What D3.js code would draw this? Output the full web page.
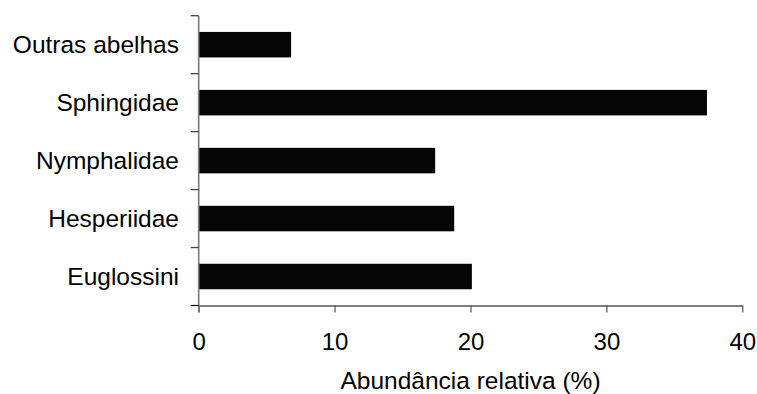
<!DOCTYPE html>
<html>
<head>
<meta charset="utf-8">
<script src="https://cdn.jsdelivr.net/npm/d3@7"></script>
<style>
  html, body { margin: 0; padding: 0; background: #fff; }
  svg { display: block; }
  text { font-family: "Liberation Sans", Arial, sans-serif; fill: #000; }
</style>
</head>
<body>
<div id="chart"></div>
<script>
// Data (top to bottom)
const categories = ["Outras abelhas", "Sphingidae", "Nymphalidae", "Hesperiidae", "Euglossini"];
const values = [6.8, 37.4, 17.4, 18.8, 20.1];
const xTicks = [0, 10, 20, 30, 40];
const xTitle = "Abundância relativa (%)";

const W = 757, H = 394;
const svg = d3.select("#chart").append("svg").attr("width", W).attr("height", H);

const plotLeft = 198.7, plotRight = 742.3, plotTop = 15.7, plotBottom = 305.5;

const x = d3.scaleLinear().domain([0, 40]).range([plotLeft, plotRight]);
const y = d3.scaleBand().domain(categories).range([plotTop, plotBottom]).padding(0);
const step = y.step();
const barH = step * 0.44;

// Bars
svg.append("g").selectAll("rect")
  .data(categories.map((c, i) => ({ c, v: values[i] })))
  .join("rect")
  .attr("x", x(0))
  .attr("y", d => y(d.c) + (step - barH) / 2)
  .attr("width", d => x(d.v) - x(0))
  .attr("height", barH)
  .attr("fill", "#050505");

// X axis
const xAxis = d3.axisBottom(x).tickValues(xTicks).tickSize(7).tickSizeOuter(0).tickPadding(20);
const gx = svg.append("g").attr("transform", `translate(0,${plotBottom})`).call(xAxis);
gx.select(".domain").attr("stroke", "#000").attr("stroke-width", 1.2);
gx.selectAll(".tick line").attr("stroke", "#555").attr("stroke-width", 1.2);
gx.selectAll(".tick text").attr("font-size", 24).attr("font-family", "Liberation Sans, Arial, sans-serif").attr("fill", "#000");

// Y axis
const gy = svg.append("g");
gy.append("line")
  .attr("x1", plotLeft).attr("x2", plotLeft)
  .attr("y1", plotTop).attr("y2", plotBottom + 7)
  .attr("stroke", "#7a7a7a").attr("stroke-width", 1.6);
const boundaries = categories.map(c => y(c));
gy.selectAll("line.tk").data(boundaries).join("line")
  .attr("class", "tk")
  .attr("x1", plotLeft - 8).attr("x2", plotLeft)
  .attr("y1", d => d).attr("y2", d => d)
  .attr("stroke", "#444").attr("stroke-width", 1.3);
gy.append("line")
  .attr("x1", plotLeft - 8).attr("x2", plotLeft)
  .attr("y1", plotBottom).attr("y2", plotBottom)
  .attr("stroke", "#000").attr("stroke-width", 1.2);

gy.selectAll("text.cat").data(categories).join("text")
  .attr("class", "cat")
  .attr("x", 179)
  .attr("y", d => y(d) + step / 2)
  .attr("dy", "0.35em")
  .attr("text-anchor", "end")
  .attr("font-size", 24.5)
  .text(d => d);

// X title
svg.append("text")
  .attr("x", (plotLeft + plotRight) / 2)
  .attr("y", 389)
  .attr("text-anchor", "middle")
  .attr("font-size", 24.5)
  .text(xTitle);
</script>
</body>
</html>
